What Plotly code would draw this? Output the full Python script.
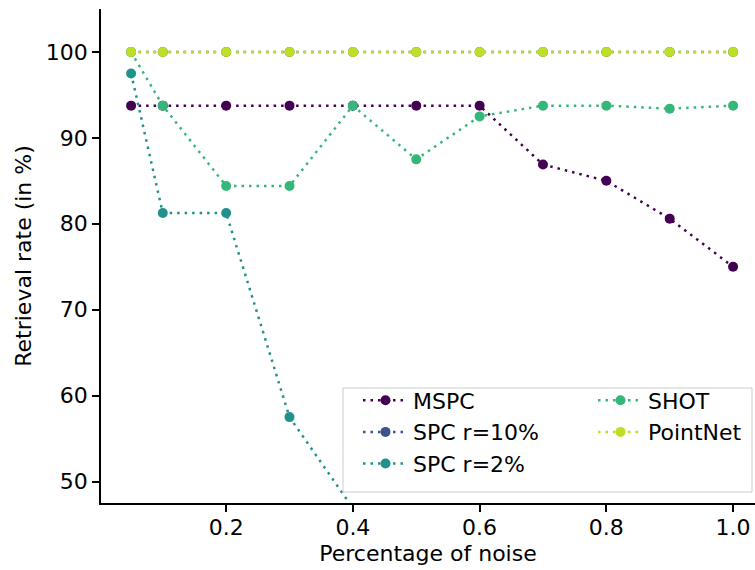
import plotly.graph_objects as go

noise = [0.05, 0.1, 0.2, 0.3, 0.4, 0.5, 0.6, 0.7, 0.8, 0.9, 1.0]
mspc = [93.75, 93.75, 93.75, 93.75, 93.75, 93.75, 93.75, 86.9, 85.0, 80.6, 75.0]
spc10 = [100, 100, 100, 100, 100, 100, 100, 100, 100, 100, 100]
spc2 = [97.5, 81.25, 81.25, 57.5, 46.9, 40.6, 37.5, 34.4, 31.25, 28.1, 25.0]
shot = [100, 93.75, 84.4, 84.4, 93.75, 87.5, 92.5, 93.75, 93.75, 93.4, 93.75]
pointnet = [100, 100, 100, 100, 100, 100, 100, 100, 100, 100, 100]

names = ["MSPC", "SPC r=10%", "SPC r=2%", "SHOT", "PointNet"]
series = [mspc, spc10, spc2, shot, pointnet]
colors = ["#440154", "#3b528b", "#21918c", "#35b779", "#bddf26"]
legends = ["legend", "legend", "legend", "legend2", "legend2"]

FONT = "DejaVu Sans"
fig = go.Figure()
for n, s, c, lg in zip(names, series, colors, legends):
    fig.add_trace(go.Scatter(
        x=noise, y=s, name=n, mode="lines+markers", legend=lg,
        line=dict(color=c, width=2.5, dash="2.5px,5px"),
        marker=dict(color=c, size=10),
    ))

W, H = 755, 570
L, R, T, B = 101, 0, 9, 67
pw, ph = W - L - R, H - T - B

def px(x):
    return (x - L) / pw

def py(y):
    return (H - B - y) / ph

fig.add_shape(type="rect", xref="paper", yref="paper",
              x0=px(343), x1=px(752), y0=py(492), y1=py(388),
              line=dict(color="#cccccc", width=1),
              fillcolor="rgba(255,255,255,0.8)", layer="above")

legend_common = dict(
    font=dict(family=FONT, size=22, color="black"),
    bgcolor="rgba(0,0,0,0)", borderwidth=0,
    xanchor="left", yanchor="top", itemwidth=45,
    orientation="v",
)
fig.update_layout(
    width=W, height=H,
    margin=dict(l=L, r=R, t=T, b=B, autoexpand=False),
    plot_bgcolor="white", paper_bgcolor="white",
    font=dict(family=FONT, size=22, color="black"),
    legend=dict(x=px(358), y=py(379.5), **legend_common),
    legend2=dict(x=px(593), y=py(379.5), **legend_common),
    xaxis=dict(
        range=[0.0025, 1.0346], tickvals=[0.2, 0.4, 0.6, 0.8, 1.0],
        ticktext=["0.2", "0.4", "0.6", "0.8", "1.0"], automargin=False,
        showgrid=False, zeroline=False, showline=True, linecolor="black", linewidth=1.5,
        ticks="outside", ticklen=7, tickwidth=1.5, tickcolor="black",
        ticklabelstandoff=-3,
        tickfont=dict(family=FONT, size=22, color="black"),
        title=dict(text="Percentage of noise", font=dict(family=FONT, size=22, color="black"), standoff=6),
    ),
    yaxis=dict(
        range=[47.5, 105], tickvals=[50, 60, 70, 80, 90, 100], automargin=False,
        showgrid=False, zeroline=False, showline=True, linecolor="black", linewidth=1.5,
        ticks="outside", ticklen=7, tickwidth=1.5, tickcolor="black",
        tickfont=dict(family=FONT, size=22, color="black"),
        title=dict(text="Retrieval rate (in %)", font=dict(family=FONT, size=22, color="black"), standoff=8),
    ),
)
fig.write_html("out.html", config={"displayModeBar": False},
               post_script="document.body.style.margin='0px';document.body.style.overflow='hidden';")
